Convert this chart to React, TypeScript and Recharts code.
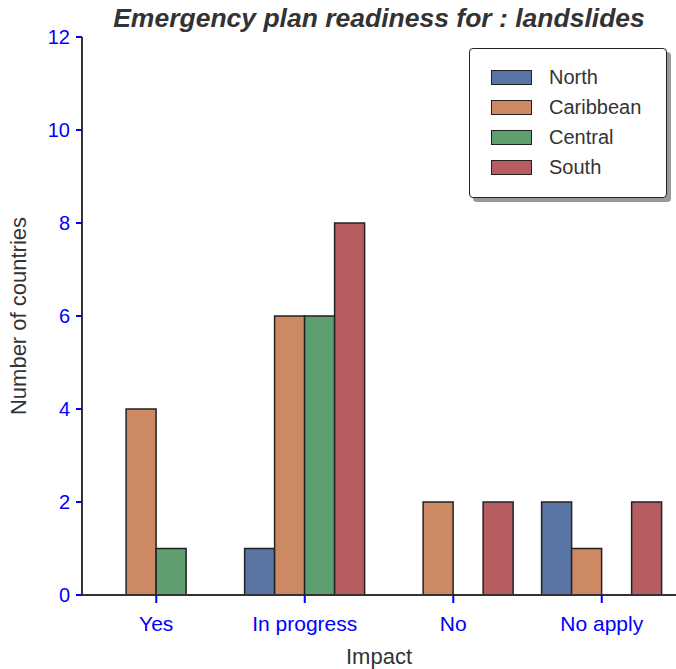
import { BarChart, Bar, XAxis, YAxis } from 'recharts';

// Catégories et valeurs
const categories = ['Yes', 'In progress', 'No', 'No apply'];
const north = [0, 1, 0, 2];
const caribbean = [4, 6, 2, 1];
const central = [1, 6, 0, 0];
const south = [0, 8, 2, 2];
const yTicks = [0, 2, 4, 6, 8, 10, 12];

const SERIES = [
  { key: 'North', color: '#5975a4', values: north },
  { key: 'Caribbean', color: '#cc8963', values: caribbean },
  { key: 'Central', color: '#5f9e6e', values: central },
  { key: 'South', color: '#b55d60', values: south },
];

const FONT = '"Liberation Sans", Arial, sans-serif';
const X_TICK = { fontSize: 21, fill: '#0000ff', fontFamily: FONT };
const Y_TICK = { fontSize: 20, fill: '#0000ff', fontFamily: FONT };
const LABEL = { fontSize: 22, fill: '#333333', fontFamily: FONT };

const data = categories.map((name, i) => {
  const row: Record<string, string | number> = { name };
  SERIES.forEach((s) => (row[s.key] = s.values[i]));
  return row;
});

function LegendBox() {
  return (
    <div
      style={{
        position: 'absolute',
        left: 469,
        top: 48,
        width: 198,
        height: 150,
        boxSizing: 'border-box',
        border: '1.5px solid #222',
        borderRadius: 4,
        background: '#fff',
        boxShadow: '4px 4px 0 #999',
        padding: '13px 0 0 21px',
        fontFamily: FONT,
        fontSize: 20,
        color: '#333',
      }}
    >
      {SERIES.map((s) => (
        <div key={s.key} style={{ display: 'flex', alignItems: 'center', height: 30 }}>
          <span
            style={{
              display: 'inline-block',
              width: 41,
              height: 15,
              boxSizing: 'border-box',
              background: s.color,
              border: '1.5px solid #222',
              marginRight: 17,
            }}
          />
          {s.key}
        </div>
      ))}
    </div>
  );
}

export default function App() {
  return (
    <div style={{ position: 'absolute', left: 0, top: 0, width: 676, height: 669, background: '#fff' }}>
      <div
        style={{
          position: 'absolute',
          top: 3,
          left: 82,
          width: 594,
          textAlign: 'center',
          fontFamily: FONT,
          fontSize: 26.5,
          fontWeight: 'bold',
          fontStyle: 'italic',
          color: '#333',
        }}
      >
        Emergency plan readiness for : landslides
      </div>
      <BarChart
        width={676}
        height={669}
        data={data}
        margin={{ top: 37, right: 0, left: 0, bottom: 0 }}
        barCategoryGap="9.5%"
        barGap={0}
      >
        <XAxis
          dataKey="name"
          height={74}
          tick={X_TICK}
          tickSize={8}
          tickMargin={13}
          tickLine={{ stroke: '#0000ff', strokeWidth: 2 }}
          axisLine={{ stroke: '#333', strokeWidth: 2 }}
          label={{ value: 'Impact', position: 'insideBottom', offset: 5, style: LABEL }}
        />
        <YAxis
          width={82}
          domain={[0, 12]}
          ticks={yTicks}
          interval={0}
          tick={Y_TICK}
          tickSize={6}
          tickMargin={6}
          tickLine={{ stroke: '#0000ff', strokeWidth: 2 }}
          axisLine={{ stroke: '#333', strokeWidth: 2 }}
          label={{
            value: 'Number of countries',
            angle: -90,
            position: 'insideLeft',
            offset: 18,
            style: { ...LABEL, textAnchor: 'middle' },
          }}
        />
        {SERIES.map((s) => (
          <Bar
            key={s.key}
            dataKey={s.key}
            fill={s.color}
            stroke="#222"
            strokeWidth={1.5}
            isAnimationActive={false}
          />
        ))}
      </BarChart>
      <LegendBox />
    </div>
  );
}
